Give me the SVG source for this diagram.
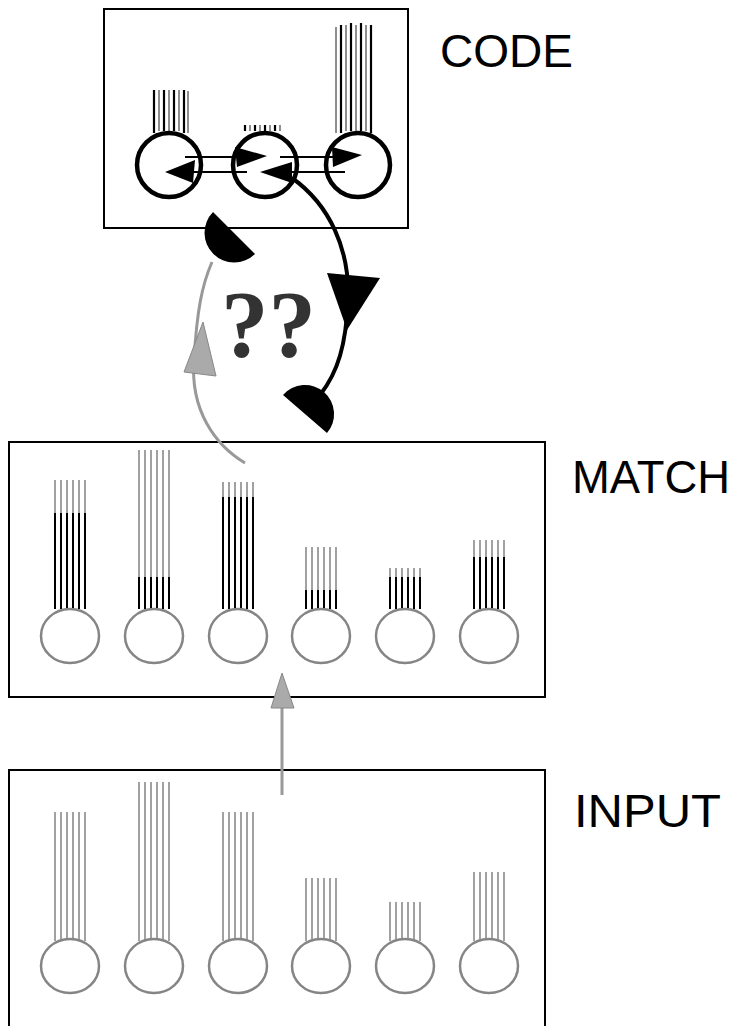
<svg xmlns="http://www.w3.org/2000/svg" width="739" height="1026" viewBox="0 0 739 1026">
<style>
.box{fill:none;stroke:#000;stroke-width:2}
.lbl{font-family:"Liberation Sans",Arial,sans-serif;font-size:47px;fill:#000}
.ccirc{fill:#fff;stroke:#000;stroke-width:4.5}
.gcirc{fill:#fff;stroke:#858585;stroke-width:2.5}
.light{stroke:#7a7a7a;stroke-width:1.4;fill:none}
.dark{stroke:#000;stroke-width:2;fill:none}
.cthick{stroke:#000;stroke-width:2.2;fill:none}
.cthin{stroke:#444;stroke-width:1.2;fill:none}
.thin{stroke:#000;stroke-width:1.8;fill:none}
.blk{fill:#000}
.grey{stroke:#999;stroke-width:3;fill:none}
.greyfill{fill:#aaa;stroke:#888;stroke-width:1}
.qq{font-family:"Liberation Serif","Times New Roman",serif;font-weight:bold;font-size:95px;fill:#333}
</style>

<g id="code-box">
  <rect class="box" x="104" y="9" width="304" height="219"/>
  <path class="cthick" d="M154 90V133M164 90V131M174 90V131M184 90V133"/>
  <path class="cthin" d="M159 90V131M169 90V131M179 90V131M188 91V133"/>
  <path class="cthick" d="M245 125V131M255 125V131M265 125V131M275 125V131"/>
  <path class="cthin" d="M250 125V131M260 125V131M270 125V131M280 125V131"/>
  <path class="cthick" d="M341 25V133M351 23V131M361 23V131M371 25V133"/>
  <path class="cthin" d="M336 27V133M346 25V131M356 25V131M366 25V131"/>
  <circle id="code-c1" class="ccirc" cx="169" cy="165" r="32"/>
  <circle id="code-c2" class="ccirc" cx="265" cy="165" r="32"/>
  <circle id="code-c3" class="ccirc" cx="358" cy="165" r="32"/>
</g>

<g id="match-box">
  <rect class="box" x="9" y="442" width="536" height="255"/>
  <path class="light" d="M55 480V513M61 480V513M67 480V513M73 480V513M79 480V513M85 480V513"/>
  <path class="dark" d="M55 513V609M61 513V609M67 513V609M73 513V609M79 513V609M85 513V609"/>
  <path class="light" d="M139 450V577M145 450V577M151 450V577M157 450V577M163 450V577M169 450V577"/>
  <path class="dark" d="M139 577V609M145 577V609M151 577V609M157 577V609M163 577V609M169 577V609"/>
  <path class="light" d="M223 482V497M229 482V497M235 482V497M241 482V497M247 482V497M253 482V497"/>
  <path class="dark" d="M223 497V609M229 497V609M235 497V609M241 497V609M247 497V609M253 497V609"/>
  <path class="light" d="M306 547V590M312 547V590M318 547V590M324 547V590M330 547V590M336 547V590"/>
  <path class="dark" d="M306 590V609M312 590V609M318 590V609M324 590V609M330 590V609M336 590V609"/>
  <path class="light" d="M390 568V577M396 568V577M402 568V577M408 568V577M414 568V577M420 568V577"/>
  <path class="dark" d="M390 577V609M396 577V609M402 577V609M408 577V609M414 577V609M420 577V609"/>
  <path class="light" d="M474 540V557M480 540V557M486 540V557M492 540V557M498 540V557M504 540V557"/>
  <path class="dark" d="M474 557V609M480 557V609M486 557V609M492 557V609M498 557V609M504 557V609"/>
  <ellipse class="gcirc" cx="70" cy="636" rx="29" ry="27"/>
  <ellipse class="gcirc" cx="154" cy="636" rx="29" ry="27"/>
  <ellipse class="gcirc" cx="238" cy="636" rx="29" ry="27"/>
  <ellipse class="gcirc" cx="321" cy="636" rx="29" ry="27"/>
  <ellipse class="gcirc" cx="405" cy="636" rx="29" ry="27"/>
  <ellipse class="gcirc" cx="489" cy="636" rx="29" ry="27"/>
</g>

<g id="input-box">
  <path class="box" d="M9 1030V770H545V1030"/>
  <path class="light" d="M55 812V941M61 812V941M67 812V941M73 812V941M79 812V941M85 812V941"/>
  <path class="light" d="M139 782V941M145 782V941M151 782V941M157 782V941M163 782V941M169 782V941"/>
  <path class="light" d="M223 812V941M229 812V941M235 812V941M241 812V941M247 812V941M253 812V941"/>
  <path class="light" d="M306 878V941M312 878V941M318 878V941M324 878V941M330 878V941M336 878V941"/>
  <path class="light" d="M390 902V941M396 902V941M402 902V941M408 902V941M414 902V941M420 902V941"/>
  <path class="light" d="M474 872V941M480 872V941M486 872V941M492 872V941M498 872V941M504 872V941"/>
  <ellipse class="gcirc" cx="70" cy="966" rx="29" ry="27"/>
  <ellipse class="gcirc" cx="154" cy="966" rx="29" ry="27"/>
  <ellipse class="gcirc" cx="238" cy="966" rx="29" ry="27"/>
  <ellipse class="gcirc" cx="321" cy="966" rx="29" ry="27"/>
  <ellipse class="gcirc" cx="405" cy="966" rx="29" ry="27"/>
  <ellipse class="gcirc" cx="489" cy="966" rx="29" ry="27"/>
</g>

<g id="labels">
  <text class="lbl" x="440" y="67" textLength="133" lengthAdjust="spacingAndGlyphs">CODE</text>
  <text class="lbl" x="572" y="493" textLength="158" lengthAdjust="spacingAndGlyphs">MATCH</text>
  <text class="lbl" x="574" y="827" textLength="147" lengthAdjust="spacingAndGlyphs">INPUT</text>
  <text class="qq" x="221" y="357">??</text>
</g>

<g id="connectors">
  <!-- code internal arrows -->
  <path class="thin" d="M185 157H240"/>
  <polygon class="blk" points="235,147 267,156 237,167"/>
  <path class="thin" d="M280 157H335"/>
  <polygon class="blk" points="332,147 362,155 333,167"/>
  <path class="thin" d="M345 172H288"/>
  <polygon class="blk" points="260,172 292,162 292,183"/>
  <path class="thin" d="M247 172H190"/>
  <polygon class="blk" points="165,172 195,160 193,183"/>
  <!-- black curved feedback -->
  <path d="M292 178C330 205 350 250 348 300C346 345 338 372 320 395" fill="none" stroke="#000" stroke-width="4"/>
  <polygon class="blk" points="327,273 380,278 347,330"/>
  <path class="blk" d="M283 395L327 433A29 29 0 0 0 283 395Z"/>
  <!-- grey curved arrow -->
  <path class="grey" d="M245 463C215 445 190 410 194 360C197 310 202 285 212 262"/>
  <polygon class="greyfill" points="184,372 216,376 203,322"/>
  <path class="blk" d="M213 212L255 254A29.7 29.7 0 0 1 213 212Z"/>
  <!-- grey vertical arrow input->match -->
  <path class="grey" d="M282 795V705" stroke-width="2.5"/>
  <polygon class="greyfill" points="282,673 271,708 294,708"/>
</g>
</svg>
